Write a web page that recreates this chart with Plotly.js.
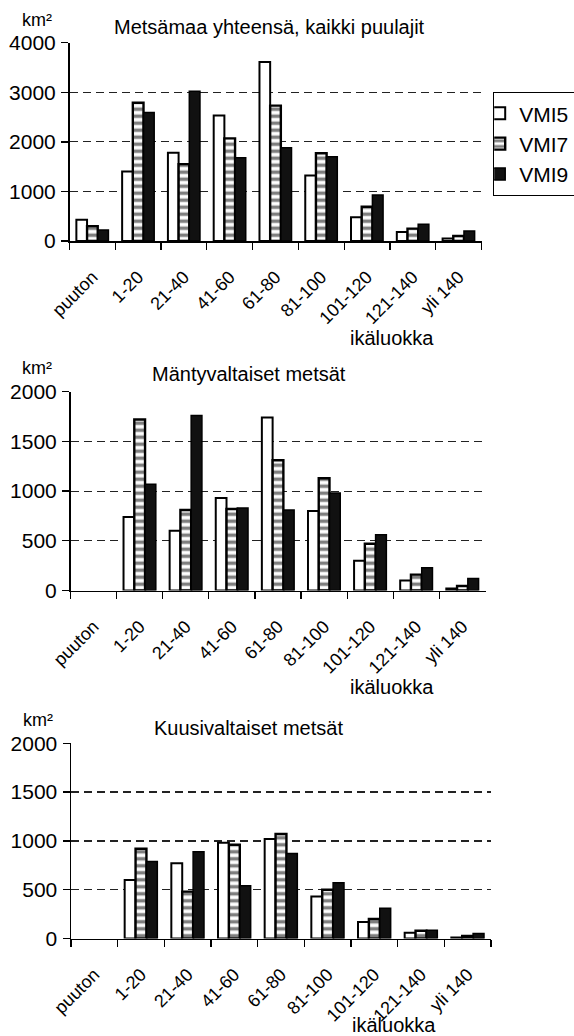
<!DOCTYPE html>
<html>
<head>
<meta charset="utf-8">
<script src="https://cdn.plot.ly/plotly-3.0.1.min.js"></script>
<style>
html,body{margin:0;padding:0;background:#fff;}
#chart{width:574px;height:1036px;}
</style>
</head>
<body>
<div id="chart"></div>
<script>
// Categories (age classes)
const categories = ['puuton','1-20','21-40','41-60','61-80','81-100','101-120','121-140','yli 140'];
const seriesNames = ['VMI5','VMI7','VMI9'];

// Panel 1: Metsämaa yhteensä, kaikki puulajit (km²)
const total_VMI5 = [430, 1400, 1780, 2530, 3610, 1320, 480, 180, 50];
const total_VMI7 = [300, 2790, 1550, 2070, 2730, 1770, 690, 250, 100];
const total_VMI9 = [220, 2590, 3020, 1680, 1880, 1700, 930, 340, 200];

// Panel 2: Mäntyvaltaiset metsät (km²)
const pine_VMI5 = [null, 740, 600, 930, 1740, 800, 300, 100, 20];
const pine_VMI7 = [null, 1720, 810, 820, 1310, 1130, 470, 160, 45];
const pine_VMI9 = [null, 1070, 1760, 830, 810, 980, 560, 230, 120];

// Panel 3: Kuusivaltaiset metsät (km²)
const spruce_VMI5 = [null, 600, 770, 980, 1020, 430, 170, 60, 10];
const spruce_VMI7 = [null, 920, 480, 960, 1070, 500, 200, 80, 25];
const spruce_VMI9 = [null, 790, 890, 540, 870, 570, 310, 85, 50];

const panelTitles = ['Metsämaa yhteensä, kaikki puulajit', 'Mäntyvaltaiset metsät', 'Kuusivaltaiset metsät'];
const yUnit = 'km²';
const xTitle = 'ikäluokka';
const yTicks1 = [0, 1000, 2000, 3000, 4000];
const yTicks2 = [0, 500, 1000, 1500, 2000];

const FONT = 'Liberation Sans, Arial, Helvetica, sans-serif';
const W = 574, H = 1036;

const styles = [
  {color:'#ffffff', line:{color:'#000', width:2}},
  {color:'#ffffff', line:{color:'#000', width:2.4}, pattern:{shape:'-', fgcolor:'#000', bgcolor:'#fff', size:7, solidity:0.5, fillmode:'overlay'}},
  {color:'#111111', line:{color:'#000', width:1.5}}
];

const panels = [
  [total_VMI5, total_VMI7, total_VMI9],
  [pine_VMI5, pine_VMI7, pine_VMI9],
  [spruce_VMI5, spruce_VMI7, spruce_VMI9]
];

const traces = [];
panels.forEach((series, p) => {
  series.forEach((vals, s) => {
    traces.push({
      type:'bar', x:categories, y:vals, name:seriesNames[s],
      xaxis: p === 0 ? 'x' : 'x' + (p+1),
      yaxis: p === 0 ? 'y' : 'y' + (p+1),
      legendgroup: seriesNames[s], showlegend: p === 0,
      marker: styles[s], hoverinfo:'x+y+name'
    });
  });
});

// pixel geometry -> paper fractions
const px = v => v / W;
const py = v => 1 - v / H;

function xax(l, r, anchor){
  return {
    domain:[px(l), px(r)], anchor:anchor, type:'category',
    showline:true, linecolor:'#000', linewidth:1.5,
    ticks:'outside', ticklen:7, tickwidth:1.3, tickcolor:'#000', tickson:'boundaries',
    tickangle:-45, tickfont:{family:FONT, size:18, color:'#000'},
    ticklabelstandoff:17,
    showgrid:false, zeroline:false, automargin:false, fixedrange:true
  };
}
function yax(top, bottom, anchor, range, tv){
  return {
    domain:[py(bottom), py(top)], anchor:anchor, range:range,
    tickvals:tv, ticktext:tv.map(String),
    showline:true, linecolor:'#000', linewidth:1.5,
    ticks:'outside', ticklen:7, tickwidth:1.3, tickcolor:'#000',
    tickfont:{family:FONT, size:21, color:'#000'}, ticklabelstandoff:1,
    showgrid:true, gridcolor:'#222', gridwidth:1.2, griddash:'8px,5px',
    zeroline:false, automargin:false, fixedrange:true
  };
}

function ann(text, x, y, size, anchor){
  return {text:text, x:px(x), y:py(y), xref:'paper', yref:'paper',
    xanchor:anchor||'center', yanchor:'middle', showarrow:false,
    font:{family:FONT, size:size, color:'#000'}};
}

const layout = {
  width:W, height:H,
  margin:{l:0, r:0, t:0, b:0, pad:0, autoexpand:false},
  paper_bgcolor:'#fff', plot_bgcolor:'rgba(0,0,0,0)',
  font:{family:FONT, color:'#000'},
  barmode:'group', bargap:0.3, bargroupgap:0,
  xaxis: xax(69.5, 481.5, 'y'),
  yaxis: yax(42.7, 241, 'x', [0, 4000], yTicks1),
  xaxis2: xax(70.5, 485.5, 'y2'),
  yaxis2: yax(391.7, 590.5, 'x2', [0, 2000], yTicks2),
  xaxis3: xax(71, 491, 'y3'),
  yaxis3: yax(743.3, 938.5, 'x3', [0, 2000], yTicks2),
  showlegend:true,
  legend:{
    x:px(493), y:py(92), xanchor:'left', yanchor:'top',
    bgcolor:'#fff', bordercolor:'#000', borderwidth:1.2,
    font:{family:FONT, size:21, color:'#000'},
    indentation:-15, itemwidth:30, traceorder:'normal'
  },
  annotations:[
    ann(panelTitles[0], 269, 27, 20),
    ann(panelTitles[1], 249, 374, 20),
    ann(panelTitles[2], 248, 728, 20),
    ann(yUnit, 37, 20, 18),
    ann(yUnit, 37, 368, 18),
    ann(yUnit, 38, 720, 18),
    ann(xTitle, 392, 338, 20),
    ann(xTitle, 392, 687, 20),
    ann(xTitle, 394, 1025, 20)
  ]
};

Plotly.newPlot('chart', traces, layout, {staticPlot:true, displayModeBar:false});
</script>
</body>
</html>
